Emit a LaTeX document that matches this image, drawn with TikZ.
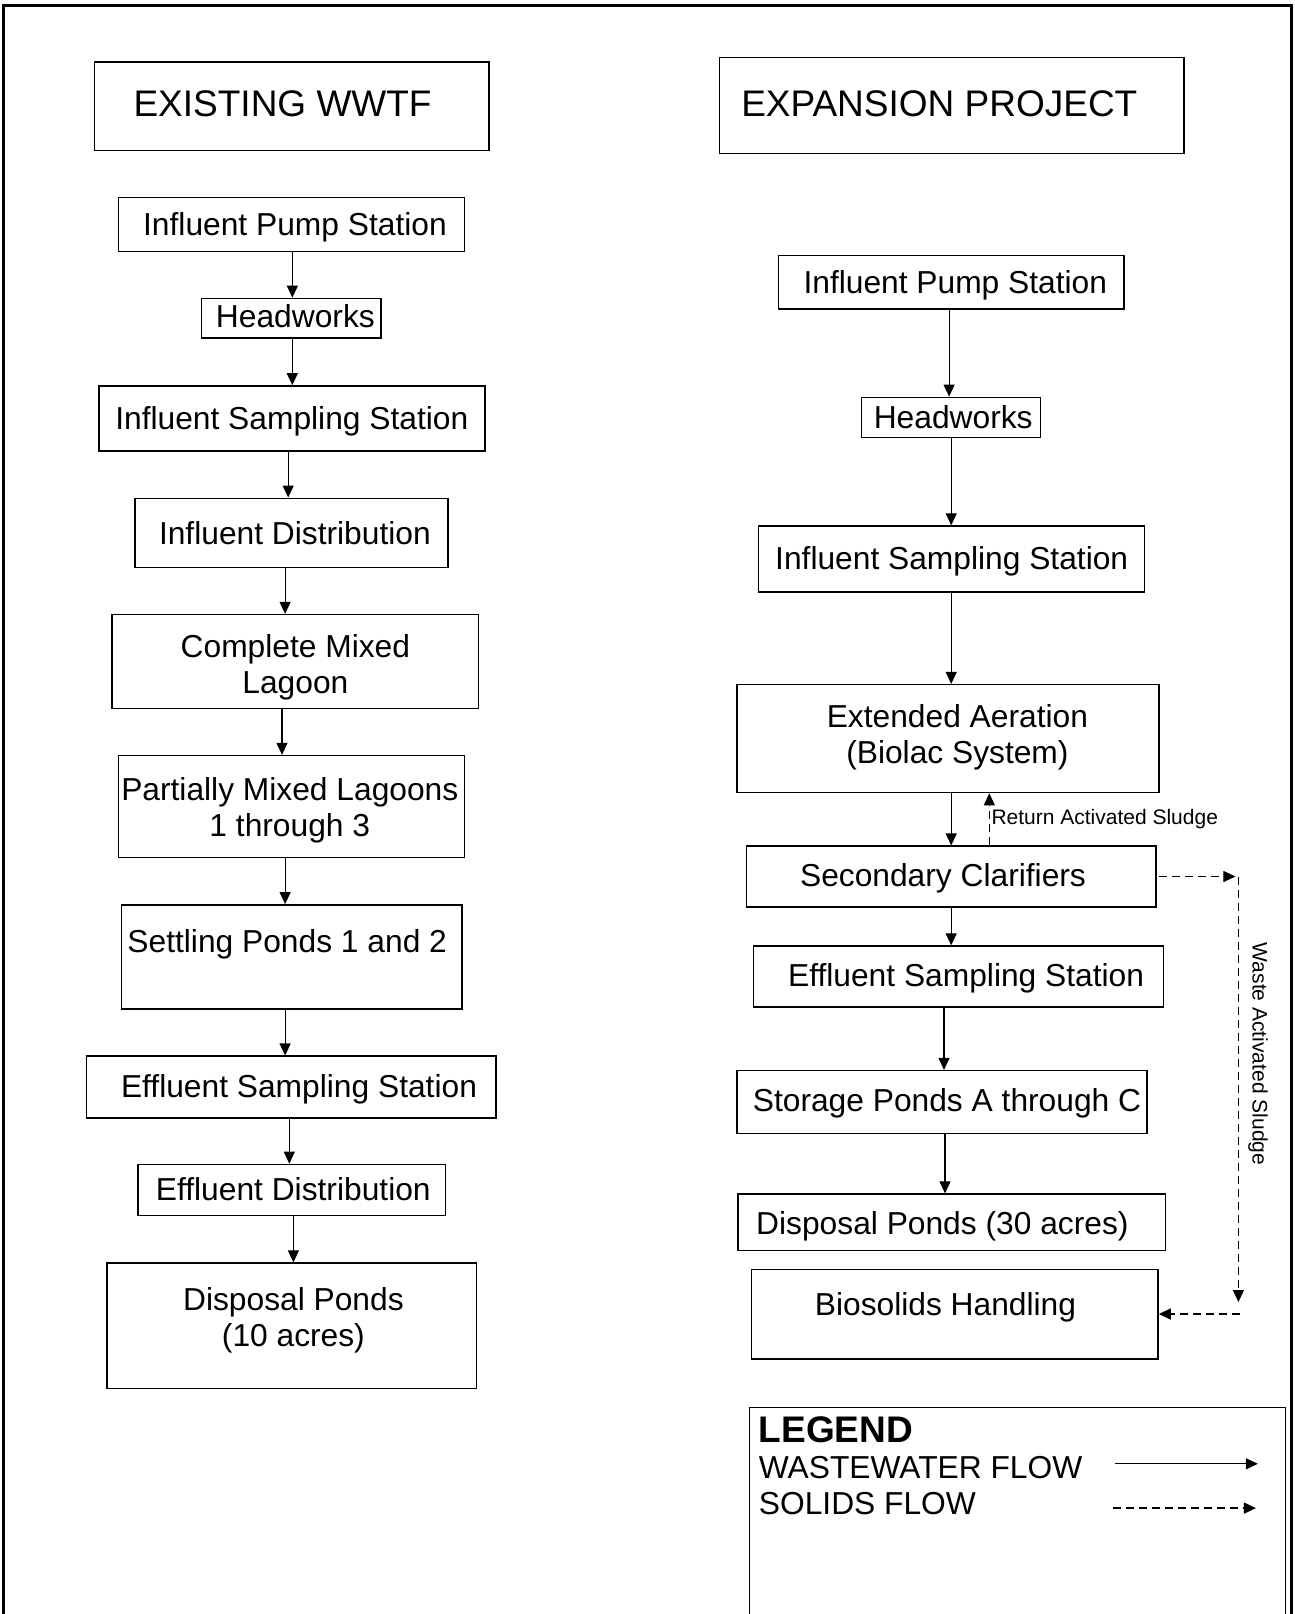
\documentclass[tikz,border=0pt]{standalone}
\usepackage{fontspec}
\setmainfont{Liberation Sans}
\usetikzlibrary{arrows.meta}
\newcommand\mvtxt[3]{\hspace*{#1}\raisebox{#2}[\height][\depth]{#3}\hspace*{-#1}}
\begin{document}
\begin{tikzpicture}[x=1pt,y=-1pt,
  box/.style={draw, line width=1.4pt, inner sep=0pt, align=center,
              font=\fontsize{31.75}{36}\selectfont},
  titlebox/.style={box, font=\fontsize{37}{42}\selectfont},
  flow/.style={line width=1.1pt, -{Triangle[length=12pt,width=11pt]}},
  solids/.style={line width=1.1pt, dash pattern=on 8pt off 5pt, -{Triangle[length=12pt,width=11pt]}},
  smalltxt/.style={inner sep=0pt, font=\fontsize{21}{24}\selectfont},
  legtxt/.style={inner sep=0pt, anchor=west, font=\fontsize{31.75}{36}\selectfont},
]
\useasboundingbox (0,0) rectangle (1294,1614);
% outer frame
\draw[line width=3pt] (3,1614) -- (3,5) -- (1291,5) -- (1291,1614);

% ---------------- left column ----------------
\node[titlebox, minimum width=394.3pt, minimum height=88.5pt] (exist) at (291.85,106.05) {\mvtxt{-9.3pt}{2pt}{EXISTING WWTF}};
\node[box, minimum width=345.9pt, minimum height=53.6pt] (lips) at (291.35,224.4) {\mvtxt{3.6pt}{-3pt}{Influent Pump Station}};
\node[box, minimum width=179.3pt, minimum height=39.5pt] (lhw) at (291.4,318.1) {\mvtxt{4pt}{2pt}{Headworks}};
\node[box, minimum width=386pt, minimum height=65pt] (liss) at (291.8,418.4) {\mvtxt{0pt}{-3pt}{Influent Sampling Station}};
\node[box, minimum width=313pt, minimum height=69pt] (lid) at (291.3,532.7) {\mvtxt{3.6pt}{0pt}{Influent Distribution}};
\node[box, minimum width=366.5pt, minimum height=93.7pt] (lcml) at (295.4,661.4) {\mvtxt{0pt}{-6pt}{Complete Mixed}\\\mvtxt{0pt}{-6pt}{Lagoon}};
\node[box, minimum width=345.9pt, minimum height=101.9pt] (lpml) at (291.3,806.5) {\mvtxt{-1.5pt}{-4pt}{Partially Mixed Lagoons}\\\mvtxt{-1.5pt}{-4pt}{1 through 3}};
\node[box, minimum width=340.7pt, minimum height=104pt] (lset) at (291.8,956.8) {\mvtxt{-4.6pt}{13pt}{Settling Ponds 1 and 2}};
\node[box, minimum width=409.7pt, minimum height=61.7pt] (less) at (291.3,1087) {\mvtxt{7.7pt}{-2pt}{Effluent Sampling Station}};
\node[box, minimum width=307.8pt, minimum height=51.4pt] (led) at (291.8,1190) {\mvtxt{1.5pt}{1pt}{Effluent Distribution}};
\node[box, minimum width=369.5pt, minimum height=125.6pt] (ldp) at (291.8,1325.9) {\mvtxt{1.6pt}{5.6pt}{Disposal Ponds}\\\mvtxt{1.6pt}{5.6pt}{(10 acres)}};

\draw[flow] ([xshift=1pt]lips.south) -- ([xshift=1pt]lips.south |- lhw.north);
\draw[flow] ([xshift=0.9pt]lhw.south) -- ([xshift=0.9pt]lhw.south |- liss.north);
\draw[flow] ([xshift=-3.6pt]liss.south) -- ([xshift=-3.6pt]liss.south |- lid.north);
\draw[flow] ([xshift=-6.2pt]lid.south) -- ([xshift=-6.2pt]lid.south |- lcml.north);
\draw[flow] ([xshift=-13.4pt]lcml.south) -- ([xshift=-13.4pt]lcml.south |- lpml.north);
\draw[flow] ([xshift=-6.2pt]lpml.south) -- ([xshift=-6.2pt]lpml.south |- lset.north);
\draw[flow] ([xshift=-6.7pt]lset.south) -- ([xshift=-6.7pt]lset.south |- less.north);
\draw[flow] ([xshift=-2pt]less.south) -- ([xshift=-2pt]less.south |- led.north);
\draw[flow] ([xshift=1.6pt]led.south) -- ([xshift=1.6pt]led.south |- ldp.north);

% ---------------- right column ----------------
\node[titlebox, minimum width=464.2pt, minimum height=95.8pt] (expn) at (951.7,105.5) {\mvtxt{-12.4pt}{2pt}{EXPANSION PROJECT}};
\node[box, minimum width=345.9pt, minimum height=53.5pt] (rips) at (951.2,282.1) {\mvtxt{4.1pt}{-3pt}{Influent Pump Station}};
\node[box, minimum width=179.1pt, minimum height=40.2pt] (rhw) at (951.2,417.4) {\mvtxt{2pt}{0pt}{Headworks}};
\node[box, minimum width=386pt, minimum height=65.9pt] (riss) at (951.7,559) {\mvtxt{0pt}{-2pt}{Influent Sampling Station}};
\node[box, minimum width=422.1pt, minimum height=108pt] (rea) at (948.1,738.6) {\mvtxt{9.3pt}{1pt}{Extended Aeration}\\\mvtxt{9.3pt}{1pt}{(Biolac System)}};
\node[box, minimum width=409.7pt, minimum height=60.7pt] (rsc) at (951.2,876.5) {\mvtxt{-8.2pt}{-2pt}{Secondary Clarifiers}};
\node[box, minimum width=409.7pt, minimum height=60.8pt] (ress) at (958.4,976.4) {\mvtxt{7.7pt}{-2pt}{Effluent Sampling Station}};
\node[box, minimum width=409.8pt, minimum height=62.8pt] (rsp) at (941.9,1102) {\mvtxt{5.1pt}{-1pt}{Storage Ponds A through C}};
\node[box, minimum width=427.2pt, minimum height=56.6pt] (rdp) at (951.7,1222.4) {\mvtxt{-9.3pt}{-4pt}{Disposal Ponds (30 acres)}};
\node[box, minimum width=406.6pt, minimum height=89.6pt] (rbh) at (954.8,1314) {\mvtxt{-9.3pt}{6.5pt}{Biosolids Handling}};

\draw[flow] ([xshift=-2.1pt]rips.south) -- ([xshift=-2.1pt]rips.south |- rhw.north);
\draw[flow] (rhw.south) -- (rhw.south |- riss.north);
\draw[flow] ([xshift=-0.5pt]riss.south) -- ([xshift=-0.5pt]riss.south |- rea.north);
\draw[flow] ([xshift=3.1pt]rea.south) -- ([xshift=3.1pt]rea.south |- rsc.north);
\draw[solids] ([xshift=38.1pt]rsc.north) -- ([xshift=38.1pt]rsc.north |- rea.south);
\node[smalltxt, anchor=west] (rlab) at (991.3,819.3) {Return Activated Sludge};
\draw[flow] (rsc.south) -- (rsc.south |- ress.north);
\draw[flow] ([xshift=-14.4pt]ress.south) -- ([xshift=-14.4pt]ress.south |- rsp.north);
\draw[flow] ([xshift=3.1pt]rsp.south) -- ([xshift=3.1pt]rsp.south |- rdp.north);

% waste activated sludge
\coordinate (wtop) at (1238.4,876.5);
\coordinate (wbot) at (1238.4,1302);
\draw[solids] ([xshift=2pt]rsc.east) -- ([xshift=-3pt]wtop);
\draw[solids] (wtop) -- (wbot);
\draw[solids] ([xshift=2pt]wtop |- rbh.east) -- (rbh.east);
\node[smalltxt, rotate=-90] (wlab) at (1258,1054) {Waste Activated Sludge};

% ---------------- legend ----------------
\draw[line width=1.4pt] (749.4,1614) -- (749.4,1407.2) -- (1285.7,1407.2) -- (1285.7,1614);
\node[legtxt, font=\bfseries\fontsize{37}{42}\selectfont] (lgT) at (758.7,1429.8) {LEGEND};
\node[legtxt] (lgW) at (758.7,1467.9) {WASTEWATER FLOW};
\node[legtxt] (lgS) at (758.7,1503.9) {SOLIDS FLOW};
\coordinate (lgw1) at (1114.8,1463.8);
\coordinate (lgw2) at (1257.9,1463.8);
\draw[flow] (lgw1) -- (lgw2);
\coordinate (lgs1) at (1112.8,1508.1);
\coordinate (lgs2) at (1255.9,1508.1);
\draw[solids, line width=1.8pt, dash pattern=on 8pt off 5pt] (lgs1) -- (lgs2);
\end{tikzpicture}
\end{document}
